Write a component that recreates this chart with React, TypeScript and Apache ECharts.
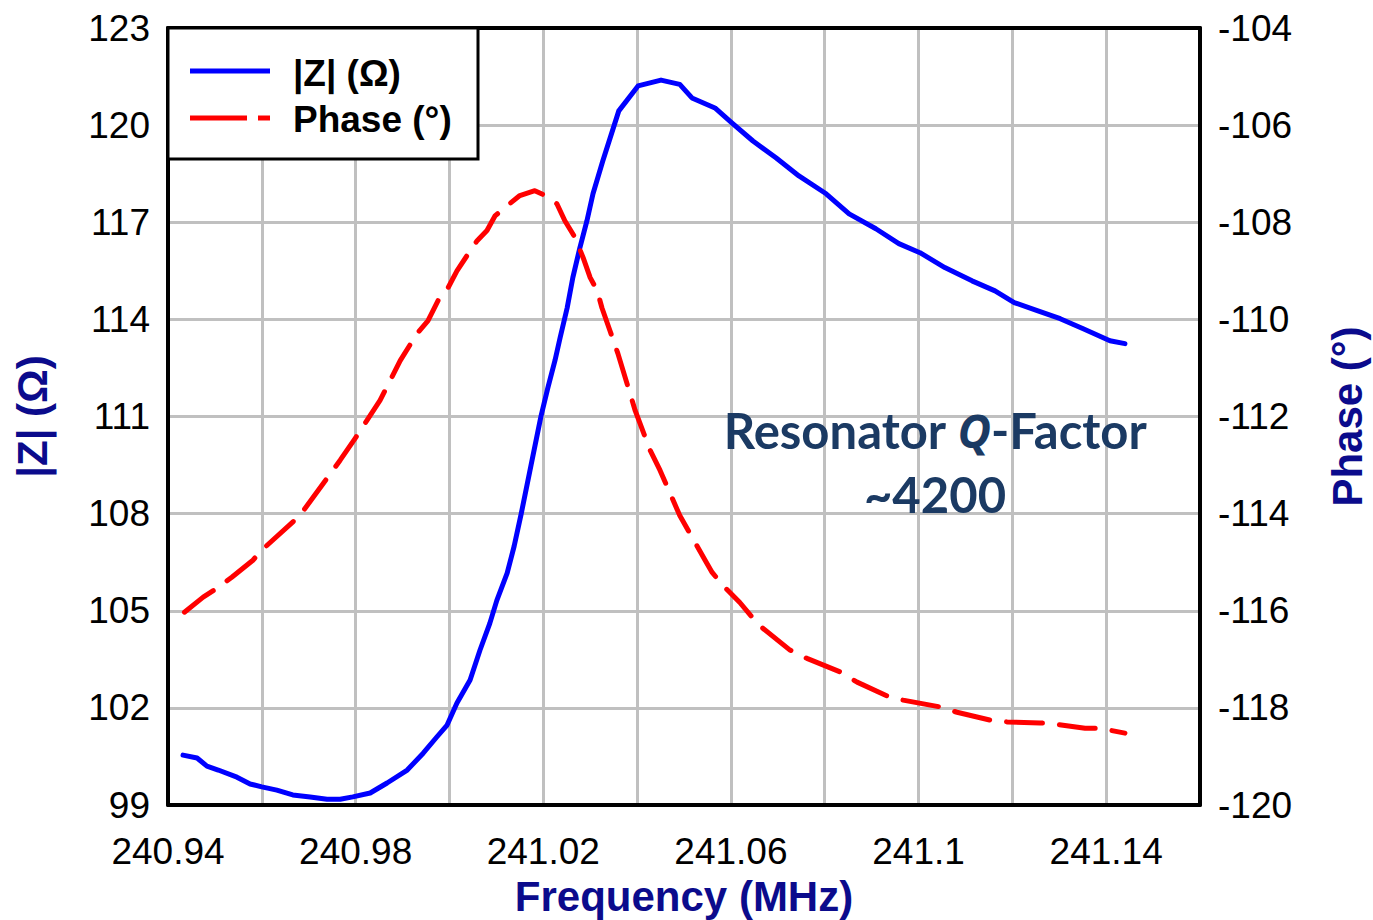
import React, { useEffect, useRef } from 'react';
import * as echarts from 'echarts';

// Impedance magnitude |Z| (Ohm) versus frequency (MHz)
const zFreq = [
  240.9432, 240.9462, 240.9483, 240.9507, 240.9547, 240.9575, 240.96, 240.9632, 240.9666, 240.9703,
  240.9739, 240.9767, 240.9794, 240.9831, 240.9867, 240.991, 240.9944, 240.9973, 240.9995, 241.0016,
  241.0044, 241.0065, 241.0086, 241.0101, 241.0123, 241.0138, 241.0153, 241.0174, 241.0195, 241.021,
  241.0225, 241.0236, 241.0251, 241.0263, 241.0278, 241.0293, 241.0306, 241.0327, 241.0361, 241.0402,
  241.0451, 241.0491, 241.0517, 241.0566, 241.0602, 241.0647, 241.0696, 241.0745, 241.0803, 241.0852,
  241.0909, 241.0958, 241.1003, 241.1056, 241.1114, 241.1163, 241.1204, 241.1253, 241.1302, 241.1351,
  241.1408, 241.144,
];
const zMag = [
  100.54, 100.45, 100.2, 100.08, 99.86, 99.65, 99.56, 99.46, 99.31, 99.25,
  99.18, 99.18, 99.25, 99.37, 99.68, 100.08, 100.6, 101.1, 101.47, 102.15,
  102.86, 103.78, 104.61, 105.32, 106.16, 107.0, 108.0, 109.5, 111.0, 111.9,
  112.73, 113.44, 114.36, 115.29, 116.21, 117.04, 117.88, 118.9, 120.44, 121.21,
  121.39, 121.26, 120.84, 120.53, 120.07, 119.51, 118.99, 118.43, 117.88, 117.26,
  116.8, 116.34, 116.06, 115.6, 115.19, 114.88, 114.52, 114.27, 114.02, 113.71,
  113.34, 113.25,
];

// Impedance phase (degrees) versus frequency (MHz)
const phaseFreq = [
  240.9435, 240.9475, 240.9504, 240.9536, 240.9581, 240.96, 240.9681, 240.9767, 240.9799, 240.9852,
  240.9895, 240.9931, 240.9954, 240.9976, 240.9997, 241.0016, 241.004, 241.0059, 241.008, 241.0097,
  241.0123, 241.015, 241.0182, 241.0204, 241.0229, 241.0246, 241.0268, 241.0285, 241.03, 241.0315,
  241.0325, 241.0342, 241.0359, 241.037, 241.0396, 241.0428, 241.0449, 241.0491, 241.0545, 241.056,
  241.0583, 241.0619, 241.0645, 241.0668, 241.0726, 241.0762, 241.0833, 241.0869, 241.0939, 241.0967,
  241.1046, 241.1082, 241.1152, 241.1189, 241.1259, 241.1287, 241.1355, 241.1387, 241.144,
];
const phaseDeg = [
  -116.03, -115.72, -115.54, -115.31, -114.96, -114.75, -114.04, -112.9, -112.45, -111.67,
  -110.85, -110.29, -110.03, -109.61, -109.35, -109.0, -108.65, -108.38, -108.17, -107.87,
  -107.66, -107.45, -107.35, -107.45, -107.62, -107.97, -108.32, -108.73, -109.14, -109.41,
  -109.76, -110.23, -110.7, -111.05, -111.88, -112.7, -113.11, -114.04, -114.96, -115.21,
  -115.48, -115.83, -116.13, -116.36, -116.81, -116.98, -117.26, -117.47, -117.78, -117.84,
  -117.98, -118.09, -118.25, -118.29, -118.31, -118.33, -118.42, -118.42, -118.52,
];

// Axis ranges
const freqMin = 240.94;
const freqMax = 241.16;
const freqStep = 0.02;
const zMin = 99;
const zMax = 123;
const zStep = 3;
const phMin = -120;
const phMax = -104;
const phStep = 2;

const seriesNames = ['|Z| (Ω)', 'Phase (°)'];
const noteLines = ['Resonator ', 'Q', '-Factor', '~4200'];

const FONT = '"Liberation Sans", Arial, sans-serif';
const TITLE_COLOR = '#0b0b8c';
const NOTE_COLOR = '#1b3a63';
const BLUE = '#0000ff';
const RED = '#ff0000';
const GRID_GRAY = '#c0c0c0';
const FRAME = { show: true, onZero: false, lineStyle: { color: '#000', width: 4 } };

export default function App() {
  const ref = useRef<HTMLDivElement>(null);

  useEffect(() => {
    if (!ref.current) return;
    document.body.style.margin = '0';
    document.body.style.overflow = 'hidden';
    const chart = echarts.init(ref.current, undefined, { renderer: 'svg' });

    const zData = zFreq.map((f, i) => [f, zMag[i]]);
    const phData = phaseFreq.map((f, i) => [f, phaseDeg[i]]);

    const tickLabel = {
      color: '#000',
      fontFamily: FONT,
      fontSize: 37,
    };
    const titleStyle = { color: TITLE_COLOR, fontFamily: FONT, fontSize: 42, fontWeight: 'bold' };

    chart.setOption({
      animation: false,
      backgroundColor: '#fff',
      grid: {
        left: 168,
        right: 173,
        top: 28,
        bottom: 115,
        outerBoundsMode: 'none',
      },
      xAxis: [
        {
          type: 'value',
          position: 'bottom',
          min: freqMin,
          max: freqMax,
          interval: freqStep,
          name: 'Frequency (MHz)',
          nameLocation: 'middle',
          nameGap: 70,
          nameTextStyle: titleStyle,
          axisLine: FRAME,
          axisTick: { show: false },
          axisLabel: {
            ...tickLabel,
            margin: 28,
            formatter: (v: number) => {
              const i = Math.round((v - freqMin) / freqStep);
              if (i % 2 !== 0 || v > 241.15) return '';
              return String(parseFloat(v.toFixed(2)));
            },
          },
          splitLine: { show: true, lineStyle: { color: GRID_GRAY, width: 3 } },
        },
        {
          // top edge of the plot frame
          type: 'value',
          position: 'top',
          min: freqMin,
          max: freqMax,
          interval: freqStep,
          axisLine: FRAME,
          axisTick: { show: false },
          axisLabel: { show: false },
          splitLine: { show: false },
        },
      ],
      yAxis: [
        {
          type: 'value',
          min: zMin,
          max: zMax,
          interval: zStep,
          name: seriesNames[0],
          nameLocation: 'middle',
          nameRotate: 90,
          nameGap: 115,
          nameTextStyle: titleStyle,
          axisLine: FRAME,
          axisTick: { show: false },
          axisLabel: { ...tickLabel, margin: 18 },
          splitLine: { show: true, lineStyle: { color: GRID_GRAY, width: 3 } },
        },
        {
          type: 'value',
          position: 'right',
          min: phMin,
          max: phMax,
          interval: phStep,
          name: seriesNames[1],
          nameLocation: 'middle',
          nameRotate: 90,
          nameGap: 126,
          nameTextStyle: titleStyle,
          axisLine: FRAME,
          axisTick: { show: false },
          axisLabel: { ...tickLabel, margin: 18 },
          splitLine: { show: false },
        },
      ],
      series: [
        {
          name: seriesNames[0],
          type: 'line',
          xAxisIndex: 0,
          yAxisIndex: 0,
          data: zData,
          showSymbol: false,
          symbol: 'none',
          lineStyle: { color: BLUE, width: 5, cap: 'round', join: 'round' },
          z: 3,
        },
        {
          name: seriesNames[1],
          type: 'line',
          xAxisIndex: 0,
          yAxisIndex: 1,
          data: phData,
          showSymbol: false,
          symbol: 'none',
          lineStyle: { color: RED, width: 5, type: [36, 17], cap: 'round', join: 'round' },
          z: 3,
        },
      ],
      graphic: [
        {
          type: 'rect',
          z: 100,
          shape: { x: 168, y: 28, width: 310, height: 131 },
          style: { fill: '#fff', stroke: '#000', lineWidth: 3 },
        },
        {
          type: 'line',
          z: 101,
          shape: { x1: 190, y1: 71, x2: 270, y2: 71 },
          style: { stroke: BLUE, lineWidth: 5 },
        },
        {
          type: 'line',
          z: 101,
          shape: { x1: 190, y1: 118, x2: 247, y2: 118 },
          style: { stroke: RED, lineWidth: 5 },
        },
        {
          type: 'line',
          z: 101,
          shape: { x1: 258, y1: 118, x2: 270, y2: 118 },
          style: { stroke: RED, lineWidth: 5 },
        },
        {
          type: 'text',
          z: 101,
          x: 293,
          y: 73,
          style: {
            text: seriesNames[0],
            fill: '#000',
            font: `bold 37px ${FONT}`,
            verticalAlign: 'middle',
            align: 'left',
          },
        },
        {
          type: 'text',
          z: 101,
          x: 293,
          y: 119,
          style: {
            text: seriesNames[1],
            fill: '#000',
            font: `bold 37px ${FONT}`,
            verticalAlign: 'middle',
            align: 'left',
          },
        },
        {
          type: 'text',
          z: 101,
          x: 935,
          y: 430,
          style: {
            text: `{b|${noteLines[0]}}{i|${noteLines[1]}}{b|${noteLines[2]}}`,
            align: 'center',
            verticalAlign: 'middle',
            rich: {
              b: { fill: NOTE_COLOR, fontFamily: 'Lato', fontWeight: 'bold', fontSize: 49 },
              i: {
                fill: NOTE_COLOR,
                fontFamily: '"Open Sans"',
                fontWeight: 'bold',
                fontStyle: 'italic',
                fontSize: 46,
              },
            },
          },
        },
        {
          type: 'text',
          z: 101,
          x: 935,
          y: 494,
          style: {
            text: noteLines[3],
            fill: NOTE_COLOR,
            font: 'bold 49px Lato',
            align: 'center',
            verticalAlign: 'middle',
          },
        },
      ],
    });

    return () => chart.dispose();
  }, []);

  return (
    <div
      ref={ref}
      style={{ position: 'fixed', left: 0, top: 0, width: 1373, height: 920 }}
    />
  );
}
